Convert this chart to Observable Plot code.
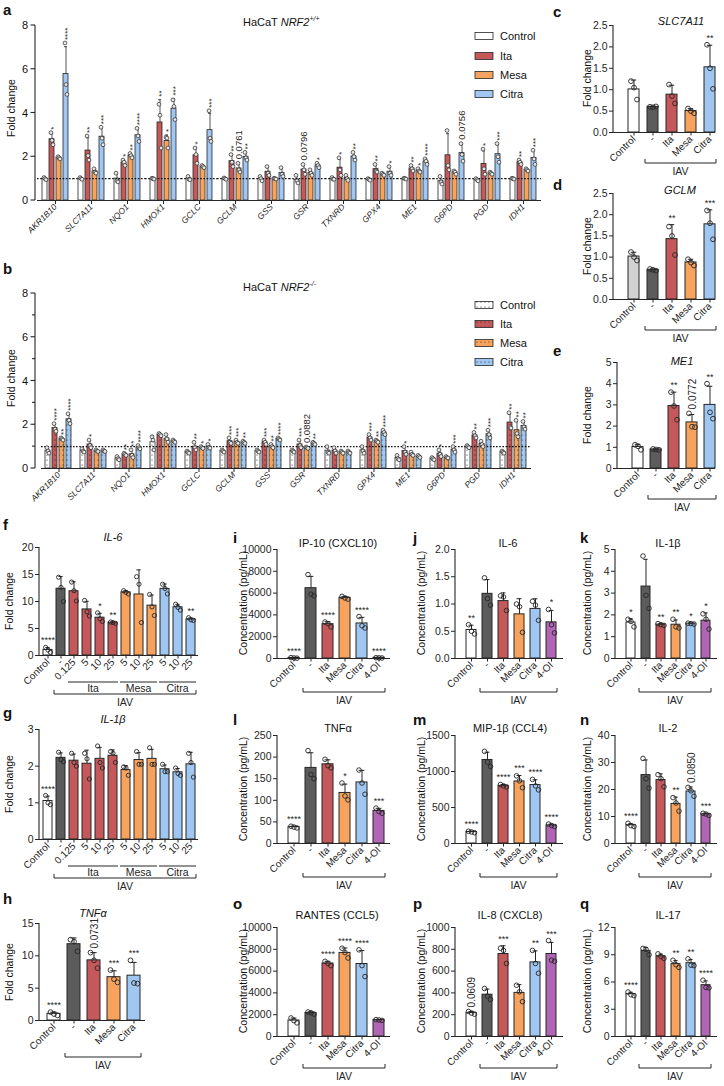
<!DOCTYPE html>
<html><head><meta charset="utf-8">
<script src="https://cdn.jsdelivr.net/npm/d3@7"></script>
<script src="https://cdn.jsdelivr.net/npm/@observablehq/plot@0.6"></script>
<style>
html,body{margin:0;padding:0;background:#fff;}
#page{position:relative;width:724px;height:1086px;overflow:hidden;background:#fff;font-family:'Liberation Sans',Arial,Helvetica,sans-serif;}
#page svg{overflow:visible;}
g[aria-label="fx-axis tick label"] text{font-style:italic;}
</style></head><body><div id="page"></div>
<script>
// ---------------- colours ----------------
const C_CTRL = "#ffffff", C_CTRL_D = "#d2d2d2", C_DASH = "#5c5c5c", C_ITA = "#c4585a",
      C_MESA = "#f7a35e", C_CITRA = "#9fc7f1", C_4OI = "#b066b5";

// ---------------- panel a / b data ----------------
const genes = ["AKR1B10","SLC7A11","NQO1","HMOX1","GCLC","GCLM","GSS","GSR","TXNRD","GPX4","ME1","G6PD","PGD","IDH1"];
const treatments = ["Control","Ita","Mesa","Citra"];
const aControl = [[1.05,1.0,0.95],[1.05,1.0,0.97],[1.25,0.9,0.85],[1.02,1.0,0.98],[1.1,0.97,0.95],[1.03,1.0,0.97],[1.1,1.0,0.9],[1.15,0.9,0.8],[1.05,0.98,0.97],[1.0,0.97,0.93],[1.02,1.0,0.98],[1.1,0.85,0.75],[1.0,0.95,0.9],[1.02,1.0,0.98]];
const aIta = [[3.1,2.75,2.55],[2.95,2.05,1.85],[1.85,1.75,1.6],[4.4,3.9,2.4],[2.4,2.1,1.7],[2.1,1.75,1.55],[1.55,1.25,1.15],[1.65,1.4,1.2],[1.95,1.4,1.15],[1.65,1.35,1.3],[1.6,1.45,1.35],[3.2,1.6,1.4],[2.35,1.45,1.2],[1.85,1.75,1.65]];
const aMesa = [[2.0,1.95,1.9],[1.45,1.3,1.25],[2.15,2.05,1.95],[2.9,2.85,2.4],[1.6,1.55,1.5],[1.7,1.4,1.3],[1.02,1.0,0.98],[1.4,1.25,1.15],[1.15,1.0,0.92],[1.25,1.2,1.15],[1.45,1.35,1.3],[1.35,1.3,1.2],[1.3,1.25,1.2],[1.45,1.4,1.35]];
const aCitra = [[7.2,5.3,4.85],[3.35,2.85,2.55],[3.3,2.95,2.7],[4.6,4.3,3.7],[4.1,2.85,2.7],[2.2,1.95,1.85],[1.5,1.2,1.1],[1.7,1.6,1.5],[2.2,2.0,1.85],[1.55,1.25,1.15],[1.9,1.8,1.65],[2.6,2.1,1.8],[2.6,2.0,1.75],[2.3,1.9,1.65]];
const aSigIta = ["*","**","*","**","*","**","","0.0796","*","**","**","","*","**"];
const aSigMesa = ["","","**","*","","0.0761","","","","","*","","",""];
const aSigCitra = ["****","***","****","***","***","**","","*","**","*","****","0.0756","***","***"];

const bControl = [[0.95,0.8,0.7],[0.9,0.8,0.75],[0.55,0.45,0.4],[1.45,1.3,0.85],[0.8,0.75,0.7],[0.85,0.8,0.75],[0.85,0.8,0.75],[0.85,0.8,0.75],[1.0,0.75,0.7],[1.0,0.8,0.7],[0.6,0.45,0.4],[0.5,0.45,0.4],[1.05,1.0,0.95],[0.8,0.75,0.7]];
const bIta = [[2.05,1.8,1.7],[1.3,1.05,0.95],[0.7,0.65,0.6],[1.6,1.55,1.5],[1.2,0.95,0.85],[1.4,1.2,1.15],[1.3,1.2,1.1],[1.3,1.05,0.95],[0.95,0.8,0.7],[1.55,1.4,1.3],[1.0,0.75,0.65],[0.85,0.65,0.55],[1.65,1.5,1.4],[2.55,1.9,1.85]];
const bMesa = [[1.4,1.35,1.3],[0.85,0.8,0.78],[0.85,0.6,0.5],[1.55,1.35,1.2],[1.0,0.95,0.92],[1.3,1.2,1.15],[1.1,1.0,0.95],[0.98,0.95,0.92],[0.8,0.75,0.7],[1.3,1.25,1.2],[0.75,0.65,0.6],[0.55,0.5,0.48],[1.25,1.1,1.0],[2.2,1.6,1.45]];
const bCitra = [[2.5,2.2,2.05],[0.85,0.8,0.78],[1.05,0.95,0.9],[1.3,1.25,1.2],[1.1,0.97,0.93],[1.25,1.2,1.15],[1.4,1.35,1.3],[1.2,1.15,1.1],[0.8,0.75,0.7],[1.75,1.65,1.55],[0.6,0.55,0.5],[1.0,0.85,0.75],[1.75,1.55,1.4],[2.15,1.9,1.8]];
const bSigIta = ["****","*","**","","**","***","***","***","","***","*","*","**","**"];
const bSigMesa = ["**","","**","","*","***","**","0.0882","","**","","","","**"];
const bSigCitra = ["****","","****","","*","**","****","**","","****","","***","***","**"];
const abTicks = [0,2,4,6,8];
const bMinorTicks = [1,3,5,7];

// ---------------- panels c, d, e ----------------
const cdeCats = ["Control","-","Ita","Mesa","Citra"];
const cPts = [[1.2,1.05,0.77],[0.6,0.59,0.61],[1.12,0.85,0.68],[0.56,0.5,0.45],[2.05,1.5,1.02]];
const cSig = ["","","","","**"];
const dPts = [[1.12,1.0,0.92],[0.72,0.7,0.68],[1.72,1.5,1.05],[0.95,0.87,0.8],[2.1,1.8,1.42]];
const dSig = ["","","**","","***"];
const ePts = [[1.12,1.05,0.88],[0.92,0.9,0.88],[3.6,2.95,2.3],[2.6,1.97,1.95],[4.0,2.65,2.35]];
const eSig = ["","","**","0.0772","**"];
const cdTicks = [0,0.5,1,1.5,2,2.5];
const eTicks = [0,1,2,3,4,5];

// ---------------- panels f, g, h ----------------
const fgCats = ["Control","-","Ita 0.125","Ita 5","Ita 10","Ita 25","Mesa 5","Mesa 10","Mesa 25","Citra 5","Citra 10","Citra 25"];
const fgLabels = ["Control","-","0.125","5","10","25","5","10","25","5","10","25"];
const fPts = [[1.5,1.0,0.6],[14.5,12.6,10.0],[13.6,12.0,10.1],[10.2,8.1,7.3],[7.9,6.8,6.3],[6.2,6.1,5.95],[12.0,11.7,11.4],[14.6,13.2,6.1],[11.3,9.0,7.4],[13.2,12.4,11.4],[9.5,8.9,8.4],[7.0,6.6,6.5]];
const fSig = ["****","","","","*","**","","","","","","**"];
const gPts = [[1.2,1.0,0.95],[2.38,2.18,2.12],[2.35,2.1,2.0],[2.35,2.2,1.65],[2.55,2.1,1.95],[2.4,2.35,2.1],[1.98,1.95,1.75],[2.4,2.05,2.05],[2.5,2.05,2.05],[2.05,1.85,1.85],[1.95,1.8,1.75],[2.35,2.1,1.7]];
const gSig = ["****","","","","","","","","","","",""];
const hPts = [[1.3,1.0,0.8],[12.5,12.2,10.7],[10.5,9.3,8.1],[7.8,6.4,5.9],[9.3,5.8,5.7]];
const hSig = ["****","","0.0731","***","***"];
const fTicks = [0,5,10,15,20], gTicks = [0,1,2,3], hTicks = [0,5,10,15];

// ---------------- panels i - q ----------------
const cytCats = ["Control","-","Ita","Mesa","Citra","4-OI"];
const iPts = [[80,50,30],[7700,5900,5750],[3350,3200,2900],[5700,5550,5450],[3850,3000,2800],[70,60,50]];
const iSig = ["****","","****","","****","****"];
const jPts = [[0.62,0.5,0.45],[1.48,1.1,0.98],[1.15,1.13,0.88],[1.0,0.95,0.48],[1.05,0.98,0.7],[0.9,0.62,0.47]];
const jSig = ["**","","","","","*"];
const kPts = [[1.8,1.7,1.45],[4.7,2.9,2.3],[1.6,1.55,1.52],[1.8,1.45,1.4],[1.62,1.6,1.58],[2.05,1.8,1.35]];
const kSig = ["*","","**","**","*","*"];
const lPts = [[40,38,36],[215,160,150],[195,180,175],[140,110,101],[170,140,114],[82,74,70]];
const lSig = ["****","","","*","","***"];
const mPts = [[170,160,150],[1280,1130,1070],[820,800,785],[940,870,775],[890,800,745],[270,250,235]];
const mSig = ["****","","****","***","****","****"];
const nPts = [[7.5,6.6,6.3],[31.5,24,20.5],[25.5,24,21],[17,15,12],[20.8,19.5,17.5],[11.2,10.9,10.4]];
const nSig = ["****","","","**","0.0850","***"];
const oPts = [[1700,1450,1250],[2250,2180,2050],[6900,6700,6500],[8100,7700,7200],[7950,6500,5500],[1550,1520,1480]];
const oSig = ["","","****","****","****",""];
const pPts = [[230,215,205],[440,370,340],[810,790,670],[470,410,320],[790,670,580],[880,700,690]];
const pSig = ["0.0609","","***","","**","***"];
const qPts = [[4.9,4.6,4.5],[9.7,9.6,9.0],[9.1,8.8,8.6],[8.4,7.9,7.6],[8.55,7.85,7.8],[6.2,5.4,5.35]];
const qSig = ["****","","","**","**","****"];
const iTicks = [0,2000,4000,6000,8000,10000], jTicks = [0,0.5,1,1.5,2], kTicks = [0,1,2,3,4,5];
const lTicks = [0,50,100,150,200,250], mTicks = [0,500,1000,1500], nTicks = [0,10,20,30,40];
const oTicks = [0,2000,4000,6000,8000,10000], pTicks = [0,200,400,600,800,1000], qTicks = [0,3,6,9,12];

// ---------------- helpers ----------------
const FONT = "'Liberation Sans', Arial, Helvetica, sans-serif";
const INK = "#262626";
const page = d3.select("#page");
const lateLabels = [];

const defs = page.append("svg").attr("width", 0).attr("height", 0)
  .style("position", "absolute").append("defs");
function pattern(id, color) {
  const p = defs.append("pattern").attr("id", id).attr("patternUnits", "userSpaceOnUse")
    .attr("width", 4).attr("height", 5);
  p.append("rect").attr("width", 4).attr("height", 5).attr("fill", color);
  p.append("circle").attr("cx", 1).attr("cy", 2).attr("r", 0.6).attr("fill", "#222");
}
pattern("pt-ctrl", C_CTRL); pattern("pt-ita", C_ITA); pattern("pt-mesa", C_MESA); pattern("pt-citra", C_CITRA);

function place(node, left, top) {
  page.append("div").style("position", "absolute").style("left", left + "px")
    .style("top", top + "px").node().appendChild(node);
}
const plotStyle = {fontFamily: FONT, fontSize: "10px", background: "transparent", overflow: "visible", color: INK};

function groupedPanel(o) {
  const rows = [];
  o.genes.forEach((g, gi) => treatments.forEach((t, ti) => {
    const p = o.pts[ti][gi], mean = d3.mean(p), sd = d3.deviation(p);
    rows.push({gene: g, trt: t, mean, hi: mean + sd, top: Math.max(mean + sd, d3.max(p)),
      p, sig: ti ? o.sigs[ti - 1][gi] : "", fill: o.fills[ti]});
  }));
  const pts = rows.flatMap(r => r.p.map((v, j) => ({gene: r.gene, trt: r.trt, v, j})));
  const stars = rows.filter(r => r.sig && !/^0/.test(r.sig));
  const pvals = rows.filter(r => /^0/.test(r.sig));
  const plot = Plot.plot({
    width: o.width, height: o.height, marginLeft: o.ml, marginRight: o.mr, marginTop: o.mt, marginBottom: o.mb,
    style: plotStyle,
    fx: {domain: o.genes, padding: 0, label: null},
    x: {domain: treatments, paddingInner: 0.26, paddingOuter: 0.5, axis: null},
    y: {domain: [0, o.ticks[o.ticks.length - 1]], axis: null},
    color: {type: "identity"},
    marks: [
      Plot.axisFx({anchor: "bottom", tickRotate: -45, tickSize: 4, tickPadding: 1, fontSize: 8.5, fontStyle: "italic", label: null}),
      Plot.barY(rows, {fx: "gene", x: "trt", y: "mean", fill: "fill", stroke: INK, strokeWidth: 0.8}),
      Plot.ruleX(rows, {fx: "gene", x: "trt", y1: "mean", y2: "hi", stroke: INK, strokeWidth: 0.8}),
      Plot.tickY(rows, {fx: "gene", x: "trt", y: "hi", stroke: INK, strokeWidth: 0.8, insetLeft: 1, insetRight: 1}),
      Plot.ruleY([1], {stroke: "#111", strokeWidth: 1.1, strokeDasharray: "1.6,1.6"}),
      ...[-1, 0, 1].map((dx, j) => Plot.dot(pts.filter(d => d.j === j),
        {fx: "gene", x: "trt", y: "v", r: 1.9, stroke: INK, strokeWidth: 0.7, fill: "#e8e8e8", dx})),
      Plot.text(stars, {fx: "gene", x: "trt", y: "top", text: "sig", rotate: -90, textAnchor: "start",
        dy: -3, dx: 1.5, fontSize: 8, fill: INK}),
      Plot.text(pvals, {fx: "gene", x: "trt", y: "top", text: "sig", rotate: -90, textAnchor: "start",
        dy: -4, fontSize: 9.5, fill: INK}),
      Plot.ruleY([0], {stroke: INK, strokeWidth: 1.1})
    ]
  });
  const svg = d3.select(plot);
  const ys = plot.scale("y");
  const ax = svg.append("g").attr("stroke", INK).attr("stroke-width", 1.1);
  ax.append("line").attr("x1", o.ml).attr("x2", o.ml).attr("y1", o.mt).attr("y2", o.height - o.mb);
  o.ticks.forEach(t => {
    const y = ys.apply(t);
    ax.append("line").attr("x1", o.ml - 4.5).attr("x2", o.ml).attr("y1", y).attr("y2", y);
    lateLabels.push({x: o.left + o.ml - 7, y: o.top + y, text: String(t)});
  });
  (o.minor || []).forEach(t => {
    const y = ys.apply(t);
    ax.append("line").attr("x1", o.ml - 3).attr("x2", o.ml).attr("y1", y).attr("y2", y);
  });
  place(plot, o.left, o.top);
}

function simplePanel(o) {
  const rows = o.cats.map((c, i) => {
    const p = o.pts[i], mean = d3.mean(p), sd = d3.deviation(p);
    return {key: c, mean, hi: mean + sd, top: Math.max(mean + sd, d3.max(p)), p, sig: o.sigs[i] || "", fill: o.fills[i]};
  });
  const n = o.cats.length;
  const fw = o.width - o.ml - o.mr;
  const step = fw / (n - o.pi + 2 * o.po);
  const bw0 = step * (1 - o.pi);
  const inset = bw0 * 0.24;
  const pts = rows.flatMap(r => r.p.map((v, j) => ({key: r.key, v, j})));
  const stars = rows.filter(r => r.sig && !/^0/.test(r.sig));
  const pvals = rows.filter(r => /^0/.test(r.sig));
  const lab = o.labels || o.cats;
  const fmt = o.yFmt || (d => String(d));
  const plot = Plot.plot({
    width: o.width, height: o.height, marginLeft: o.ml, marginRight: o.mr, marginTop: o.mt, marginBottom: o.mb,
    style: plotStyle,
    x: {domain: o.cats, paddingInner: o.pi, paddingOuter: o.po, align: o.align, axis: null},
    y: {domain: [0, o.ticks[o.ticks.length - 1]], axis: null},
    color: {type: "identity"},
    marks: [
      Plot.axisX({tickRotate: -45, tickSize: 3.5, tickPadding: 1.5, fontSize: 10,
        tickFormat: d => lab[o.cats.indexOf(d)], label: null}),
      Plot.axisY({ticks: o.ticks, tickSize: 4, tickPadding: 2, fontSize: 10.5, tickFormat: fmt, label: null}),
      Plot.barY(rows, {x: "key", y: "mean", fill: "fill", stroke: INK, strokeWidth: 1}),
      Plot.ruleX(rows, {x: "key", y1: "mean", y2: "hi", stroke: INK, strokeWidth: 1}),
      Plot.tickY(rows, {x: "key", y: "hi", stroke: INK, strokeWidth: 1, insetLeft: inset, insetRight: inset}),
      ...[-o.spread, 0, o.spread].map((dx, j) => Plot.dot(pts.filter(d => d.j === j),
        {x: "key", y: "v", r: o.r || 2.3, stroke: INK, strokeWidth: 0.9, fill: "none", dx})),
      Plot.text(stars, {x: "key", y: "top", text: "sig", lineAnchor: "bottom", dy: -4, fontSize: 9, fill: INK}),
      Plot.text(pvals, {x: "key", y: "top", text: "sig", rotate: -90, textAnchor: "start", dy: -4, dx: 0.5, fontSize: 10, fill: INK}),
      Plot.ruleY([0], {stroke: INK, strokeWidth: 1.1})
    ]
  });
  const svg = d3.select(plot);
  const y0 = o.height - o.mb;
  svg.append("line").attr("x1", o.ml).attr("x2", o.ml).attr("y1", o.mt).attr("y2", y0)
    .attr("stroke", INK).attr("stroke-width", 1.1);
  const xs = plot.scale("x");
  const bw = xs.bandwidth || bw0;
  const xA = k => xs.apply(k), xB = k => xs.apply(k) + bw;
  if (o.groups) o.groups.forEach(g => {
    const x1 = xA(g.from) - 1, x2 = xB(g.to) + 1, yy = y0 + o.groupDy;
    svg.append("line").attr("x1", x1).attr("x2", x2).attr("y1", yy).attr("y2", yy)
      .attr("stroke", INK).attr("stroke-width", 1);
    svg.append("text").attr("x", (x1 + x2) / 2).attr("y", yy + o.groupTdy).attr("text-anchor", "middle")
      .attr("dominant-baseline", "central").attr("font-size", 10.5).attr("fill", INK).text(g.text);
  });
  if (o.bracket) {
    const x1 = xA(o.bracket.from) - 2, x2 = xB(o.cats[n - 1]) + 1, yy = y0 + o.bracket.dy;
    svg.append("path").attr("d", `M${x1},${yy - 4}V${yy}H${x2}V${yy - 4}`).attr("fill", "none")
      .attr("stroke", INK).attr("stroke-width", 1);
    svg.append("text").attr("x", (x1 + x2) / 2).attr("y", yy + o.bracket.tdy).attr("text-anchor", "middle")
      .attr("dominant-baseline", "central").attr("font-size", 10.5).attr("fill", INK).text("IAV");
  }
  place(plot, o.left, o.top);
}

// ---------------- draw panels ----------------
groupedPanel({left: 0, top: 0, width: 560, height: 250, ml: 35, mr: 17, mt: 25, mb: 50, genes,
  pts: [aControl, aIta, aMesa, aCitra], sigs: [aSigIta, aSigMesa, aSigCitra],
  fills: [C_CTRL, C_ITA, C_MESA, C_CITRA], ticks: abTicks});
groupedPanel({left: 0, top: 268, width: 560, height: 250, ml: 35, mr: 24, mt: 25, mb: 50, genes,
  pts: [bControl, bIta, bMesa, bCitra], sigs: [bSigIta, bSigMesa, bSigCitra],
  fills: ["url(#pt-ctrl)", "url(#pt-ita)", "url(#pt-mesa)", "url(#pt-citra)"], ticks: abTicks, minor: bMinorTicks});

const cdeBase = {width: 160, mr: 5, mt: 25, mb: 50, pi: 0.41, po: 0.3, align: 1, spread: 3, r: 2.4,
  cats: cdeCats, bracket: {from: "-", dy: 31, tdy: 8}};
simplePanel({...cdeBase, left: 560, top: 0, height: 182, ml: 53, pts: cPts, sigs: cSig,
  fills: [C_CTRL, C_DASH, C_ITA, C_MESA, C_CITRA], ticks: cdTicks, yFmt: d => d.toFixed(1)});
simplePanel({...cdeBase, left: 560, top: 168, height: 181, ml: 53, pts: dPts, sigs: dSig,
  fills: [C_CTRL_D, C_DASH, C_ITA, C_MESA, C_CITRA], ticks: cdTicks, yFmt: d => d.toFixed(1)});
simplePanel({...cdeBase, left: 560, top: 337, height: 181, ml: 57, pts: ePts, sigs: eSig,
  fills: [C_CTRL, C_DASH, C_ITA, C_MESA, C_CITRA], ticks: eTicks});

const fgFills = [C_CTRL, C_DASH, C_ITA, C_ITA, C_ITA, C_ITA, C_MESA, C_MESA, C_MESA, C_CITRA, C_CITRA, C_CITRA];
const fgGroups = [{text: "Ita", from: "Ita 0.125", to: "Ita 25"}, {text: "Mesa", from: "Mesa 5", to: "Mesa 25"},
  {text: "Citra", from: "Citra 5", to: "Citra 25"}];
const fgBase = {left: 0, width: 200, ml: 39, mr: 2, mt: 25, mb: 50, pi: 0.27, po: 0.15, align: 0.6,
  spread: 2.4, r: 2.1, cats: fgCats, labels: fgLabels, fills: fgFills, groups: fgGroups, groupDy: 27,
  groupTdy: 6, bracket: {from: "-", dy: 39, tdy: 8}};
simplePanel({...fgBase, top: 522, height: 183, pts: fPts, sigs: fSig, ticks: fTicks});
simplePanel({...fgBase, top: 704, height: 185, pts: gPts, sigs: gSig, ticks: gTicks});
simplePanel({left: 0, top: 898, width: 150, height: 172, ml: 39, mr: 5, mt: 25, mb: 50, pi: 0.33, po: 0.19,
  align: 0.6, spread: 3.5, r: 2.4, cats: cdeCats, pts: hPts, sigs: hSig,
  fills: [C_CTRL, C_DASH, C_ITA, C_MESA, C_CITRA], ticks: hTicks, bracket: {from: "-", dy: 37, tdy: 8}});

const cytFills = [C_CTRL, C_DASH, C_ITA, C_MESA, C_CITRA, C_4OI];
const cytBase = {mt: 25, mb: 50, pi: 0.37, po: 0.43, align: 0.63, spread: 3, r: 2.3, cats: cytCats,
  fills: cytFills, bracket: {from: "-", dy: 34, tdy: 8}};
const colX = [{left: 212, width: 182, ml: 65, mr: 4}, {left: 392, width: 175, ml: 63, mr: 4}, {left: 568, width: 153, ml: 47, mr: 4}];
const rowY = [{top: 524, height: 184}, {top: 710, height: 183}, {top: 902, height: 184}];
simplePanel({...cytBase, ...colX[0], ...rowY[0], pts: iPts, sigs: iSig, ticks: iTicks});
simplePanel({...cytBase, ...colX[1], ...rowY[0], pts: jPts, sigs: jSig, ticks: jTicks, yFmt: d => d.toFixed(1)});
simplePanel({...cytBase, ...colX[2], ...rowY[0], pts: kPts, sigs: kSig, ticks: kTicks});
simplePanel({...cytBase, ...colX[0], ...rowY[1], pts: lPts, sigs: lSig, ticks: lTicks});
simplePanel({...cytBase, ...colX[1], ...rowY[1], pts: mPts, sigs: mSig, ticks: mTicks});
simplePanel({...cytBase, ...colX[2], ...rowY[1], pts: nPts, sigs: nSig, ticks: nTicks});
const row3 = {...cytBase, bracket: {from: "-", dy: 32, tdy: 8}};
simplePanel({...row3, ...colX[0], ...rowY[2], pts: oPts, sigs: oSig, ticks: oTicks});
simplePanel({...row3, ...colX[1], ...rowY[2], pts: pPts, sigs: pSig, ticks: pTicks});
simplePanel({...row3, ...colX[2], ...rowY[2], pts: qPts, sigs: qSig, ticks: qTicks});

// ---------------- overlay text ----------------
const ov = page.append("svg").attr("width", 724).attr("height", 1086)
  .style("position", "absolute").style("left", "0px").style("top", "0px")
  .style("pointer-events", "none").attr("font-family", FONT).attr("fill", "#111");
function txt(x, y, s, opt = {}) {
  const t = ov.append("text").attr("x", x).attr("y", y).attr("text-anchor", opt.anchor || "middle")
    .attr("dominant-baseline", "central").attr("font-size", opt.size || 11);
  if (opt.bold) t.attr("font-weight", "bold");
  if (opt.italic) t.attr("font-style", "italic");
  if (opt.rot) t.attr("transform", `rotate(${opt.rot},${x},${y})`);
  t.text(s);
  return t;
}
// y tick labels of panels a and b
lateLabels.forEach(d => txt(d.x, d.y, d.text, {anchor: "end", size: 11}));

// panel letters
[["a", 3, 9], ["b", 3, 268], ["c", 553, 11], ["d", 553, 184], ["e", 553, 350], ["f", 3, 524], ["g", 3, 712],
 ["h", 3, 898], ["i", 233, 537], ["j", 413, 537], ["k", 580, 537], ["l", 233, 719], ["m", 413, 719],
 ["n", 580, 719], ["o", 233, 903], ["p", 413, 903], ["q", 580, 903]]
  .forEach(([s, x, y]) => txt(x, y, s, {anchor: "start", bold: true, size: 15}));

// titles a, b
function nrfTitle(x, y, sup) {
  const t = ov.append("text").attr("x", x).attr("y", y).attr("dominant-baseline", "central").attr("font-size", 11);
  t.append("tspan").text("HaCaT ");
  t.append("tspan").attr("font-style", "italic").text("NRF2");
  t.append("tspan").attr("font-size", 7).attr("dy", -4).attr("font-style", "italic").text(sup);
}
nrfTitle(243, 22, "+/+");
nrfTitle(243, 287, "-/-");

// gene / cytokine titles
[["SLC7A11", 681, 21, true], ["GCLM", 680, 190, true], ["ME1", 682, 361, true],
 ["IL-6", 113, 537, true], ["IL-1\u03b2", 113, 719, true], ["TNF\u03b1", 93, 913, true],
 ["IP-10 (CXCL10)", 338, 543], ["IL-6", 508, 543], ["IL-1\u03b2", 668, 543],
 ["TNF\u03b1", 338, 728], ["MIP-1\u03b2 (CCL4)", 510, 728], ["IL-2", 668, 728],
 ["RANTES (CCL5)", 337, 915], ["IL-8 (CXCL8)", 510, 915], ["IL-17", 668, 915]]
  .forEach(([s, x, y, it]) => txt(x, y, s, {italic: !!it, size: 11}));

// y-axis titles
[[11, 108], [11, 378], [587, 78], [587, 246], [587, 415], [9, 601], [9, 784], [9, 972]]
  .forEach(([x, y]) => txt(x, y, "Fold change", {rot: -90, size: 10.5}));
[[243, 603], [421, 603], [587, 603], [243, 789], [421, 789], [587, 789], [243, 981], [421, 981], [587, 981]]
  .forEach(([x, y]) => txt(x, y, "Concentration (pg/mL)", {rot: -90, size: 10.5}));

// legends
function legend(rowsY, fills) {
  treatments.forEach((t, i) => {
    ov.append("rect").attr("x", 475).attr("y", rowsY[i] - 3.5).attr("width", 18).attr("height", 7)
      .attr("fill", fills[i]).attr("stroke", INK).attr("stroke-width", 0.8);
    txt(500, rowsY[i], t, {anchor: "start", size: 11});
  });
}
legend([36, 56, 75, 94], [C_CTRL, C_ITA, C_MESA, C_CITRA]);
legend([305, 324, 343, 362], ["url(#pt-ctrl)", "url(#pt-ita)", "url(#pt-mesa)", "url(#pt-citra)"]);
</script></body></html>
